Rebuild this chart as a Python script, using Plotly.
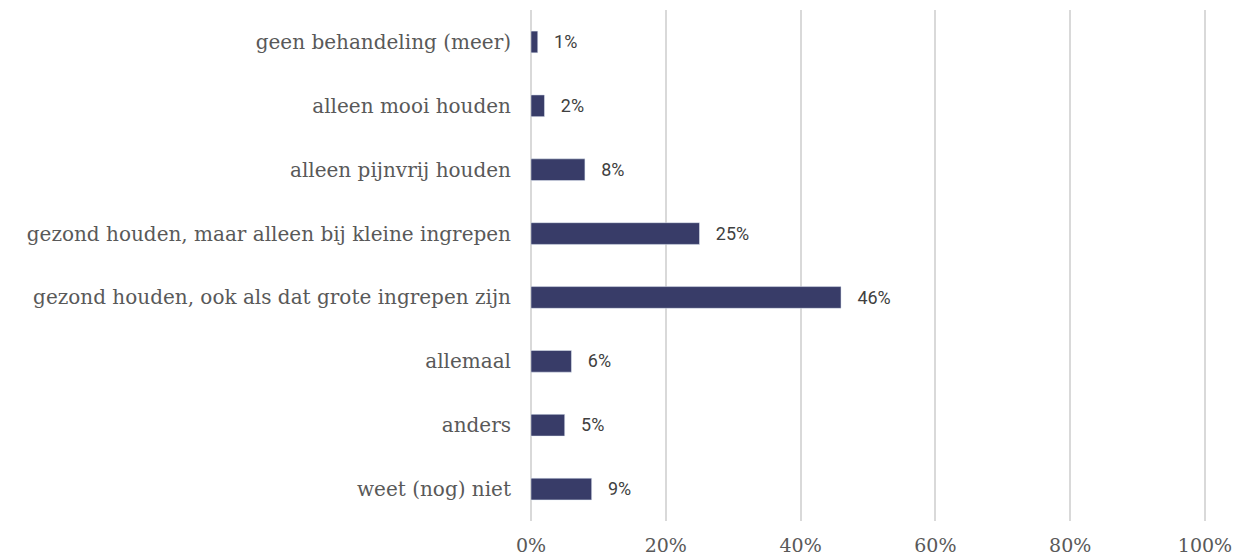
import plotly.graph_objects as go

categories = [
    "geen behandeling (meer)",
    "alleen mooi houden",
    "alleen pijnvrij houden",
    "gezond houden, maar alleen bij kleine ingrepen",
    "gezond houden, ook als dat grote ingrepen zijn",
    "allemaal",
    "anders",
    "weet (nog) niet",
]
values = [1, 2, 8, 25, 46, 6, 5, 9]
tick_vals = [0, 20, 40, 60, 80, 100]
tick_text = ["0%", "20%", "40%", "60%", "80%", "100%"]

fig = go.Figure(go.Bar(
    y=categories,
    x=values,
    orientation="h",
    marker=dict(color="#383c68"),
    width=0.34,
    text=[f"   {v}%" for v in values],
    textposition="outside",
    textfont=dict(family="Roboto", size=19, color="#404040"),
    cliponaxis=False,
))

# page body has an 8px default margin, so the figure is 8px smaller
fig.update_layout(
    width=1240, height=551,
    margin=dict(l=523, r=42, t=2, b=38),
    plot_bgcolor="white", paper_bgcolor="white",
    showlegend=False,
    xaxis=dict(
        range=[0, 100.15], tickvals=tick_vals, ticktext=tick_text,
        showgrid=True, gridcolor="#d9d9d9", gridwidth=1.5,
        zeroline=True, zerolinecolor="#d9d9d9", zerolinewidth=1.5,
        showline=False, automargin=False,
        tickfont=dict(family="DejaVu Serif", size=19, color="#595959"),
        ticklabelstandoff=11,
    ),
    yaxis=dict(
        autorange="reversed", automargin=False,
        tickfont=dict(family="DejaVu Serif", size=20, color="#595959"),
        ticklabelstandoff=19,
        showgrid=False, zeroline=False,
    ),
)

fig.write_html("out.html")
